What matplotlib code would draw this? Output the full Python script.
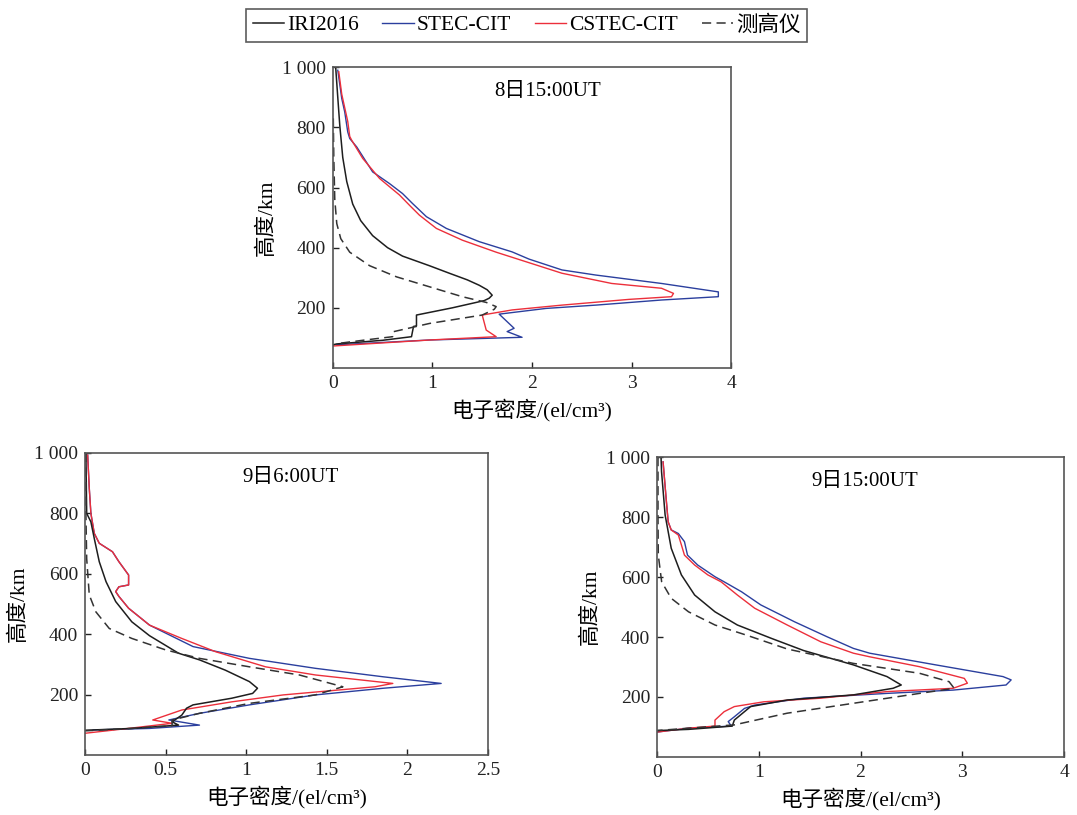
import numpy as np
import matplotlib
matplotlib.use("Agg")
import matplotlib.pyplot as plt

plt.rcParams['font.family'] = ['Liberation Serif', 'Noto Sans CJK SC']
plt.rcParams['axes.unicode_minus'] = False

# 图例名称
series_names = ['IRI2016', 'STEC-CIT', 'CSTEC-CIT', '测高仪']

# ---------- 8日15:00UT ----------
a_iri_x = [0.03, 0.05, 0.07, 0.10, 0.14, 0.20, 0.28, 0.40, 0.55, 0.70, 0.97, 1.17, 1.35, 1.47, 1.55, 1.60, 1.57, 1.52, 1.20, 0.84, 0.84, 0.81, 0.79, 0.50, 0.04, 0.0]
a_iri_y = [995, 900, 807, 700, 620, 545, 490, 440, 400, 372, 340, 315, 293, 275, 260, 242, 232, 224, 200, 176, 140, 138, 104, 92, 80, 77]
a_stec_x = [0.05, 0.09, 0.12, 0.15, 0.17, 0.24, 0.40, 0.57, 0.70, 0.80, 0.94, 1.14, 1.47, 1.80, 1.97, 2.30, 2.64, 3.30, 3.87, 3.87, 3.30, 2.64, 2.14, 1.67, 1.82, 1.75, 1.90, 0.97, 0.04]
a_stec_y = [990, 896, 851, 785, 763, 735, 652, 613, 580, 547, 503, 464, 420, 386, 362, 326, 309, 281, 253, 237, 226, 209, 198, 179, 132, 121, 102, 93, 77]
a_cstec_x = [0.06, 0.09, 0.11, 0.13, 0.15, 0.17, 0.19, 0.30, 0.47, 0.67, 0.77, 0.87, 1.04, 1.30, 1.64, 1.97, 2.30, 2.80, 3.30, 3.42, 3.40, 2.97, 2.30, 1.80, 1.50, 1.54, 1.64, 0.97, 0.0]
a_cstec_y = [985, 910, 880, 850, 820, 770, 757, 697, 630, 575, 541, 508, 464, 425, 385, 350, 315, 281, 265, 248, 237, 228, 209, 193, 176, 126, 104, 93, 73]
a_iono_x = [0.005, 0.01, 0.02, 0.04, 0.08, 0.17, 0.37, 0.64, 0.97, 1.30, 1.54, 1.64, 1.62, 1.50, 0.97, 0.60, 0.60, 0.30, 0.04]
a_iono_y = [830, 700, 560, 480, 430, 385, 340, 303, 270, 237, 218, 204, 195, 176, 148, 120, 104, 92, 81]

# ---------- 9日6:00UT ----------
b_iri_x = [0.005, 0.01, 0.036, 0.057, 0.088, 0.13, 0.19, 0.29, 0.40, 0.58, 0.71, 0.87, 1.02, 1.07, 1.04, 0.91, 0.67, 0.63, 0.60, 0.54, 0.58, 0.29, 0.05, 0.0]
b_iri_y = [1000, 800, 772, 717, 640, 574, 508, 441, 395, 337, 315, 281, 243, 221, 204, 188, 166, 155, 132, 110, 99, 88, 83, 82]
b_cstec_x = [0.016, 0.026, 0.036, 0.057, 0.088, 0.17, 0.21, 0.27, 0.27, 0.21, 0.19, 0.21, 0.27, 0.40, 0.60, 0.81, 1.12, 1.43, 1.91, 1.80, 1.23, 0.91, 0.60, 0.42, 0.54, 0.30, 0.0]
b_cstec_y = [993, 883, 800, 734, 701, 673, 640, 596, 563, 557, 541, 525, 486, 430, 386, 342, 292, 265, 237, 226, 199, 176, 149, 116, 105, 90, 72]
b_stec_x = [0.016, 0.026, 0.036, 0.057, 0.088, 0.17, 0.21, 0.27, 0.27, 0.21, 0.19, 0.21, 0.27, 0.40, 0.67, 1.02, 1.43, 1.85, 2.21, 1.85, 1.43, 1.02, 0.71, 0.52, 0.71, 0.40, 0.05]
b_stec_y = [993, 883, 800, 734, 701, 673, 640, 596, 563, 557, 541, 525, 486, 430, 359, 320, 287, 259, 237, 221, 199, 166, 138, 116, 99, 88, 83]
b_iono_x = [0.005, 0.005, 0.01, 0.026, 0.067, 0.15, 0.29, 0.50, 0.71, 1.02, 1.33, 1.60, 1.43, 1.02, 0.71, 0.54, 0.54, 0.29, 0.0]
b_iono_y = [1000, 800, 650, 530, 474, 419, 386, 348, 320, 292, 265, 226, 199, 171, 138, 116, 97, 88, 80]

# ---------- 9日15:00UT ----------
c_iri_x = [0.04, 0.045, 0.08, 0.14, 0.24, 0.37, 0.57, 0.79, 1.12, 1.44, 1.93, 2.26, 2.40, 2.32, 1.93, 1.28, 0.92, 0.76, 0.74, 0.31, 0.0]
c_iri_y = [1000, 951, 807, 696, 607, 540, 484, 440, 396, 355, 307, 268, 240, 229, 207, 190, 168, 123, 103, 92, 88]
c_stec_x = [0.06, 0.09, 0.11, 0.14, 0.21, 0.27, 0.30, 0.40, 0.57, 0.66, 0.83, 1.02, 1.35, 1.67, 1.93, 2.09, 2.74, 3.40, 3.48, 3.43, 2.91, 2.26, 1.44, 0.96, 0.86, 0.76, 0.70, 0.73, 0.31, 0.0]
c_stec_y = [984, 862, 784, 757, 745, 718, 673, 640, 601, 584, 551, 507, 451, 401, 362, 346, 307, 268, 257, 240, 223, 212, 196, 173, 162, 134, 118, 103, 96, 83]
c_cstec_x = [0.06, 0.09, 0.11, 0.14, 0.21, 0.24, 0.27, 0.37, 0.50, 0.63, 0.79, 0.96, 1.28, 1.61, 1.93, 2.09, 2.58, 3.02, 3.05, 2.91, 2.26, 1.61, 1.05, 0.76, 0.66, 0.57, 0.57, 0.31, 0.0]
c_cstec_y = [984, 862, 784, 757, 740, 707, 673, 640, 607, 584, 540, 496, 440, 384, 346, 334, 301, 262, 246, 229, 218, 196, 184, 168, 151, 123, 103, 96, 83]
c_iono_x = [0.01, 0.01, 0.013, 0.046, 0.14, 0.31, 0.57, 0.89, 1.28, 1.93, 2.58, 2.87, 2.92, 2.58, 1.93, 1.28, 0.76, 0.31, 0.0]
c_iono_y = [1000, 800, 673, 584, 529, 484, 440, 405, 360, 312, 279, 251, 229, 212, 179, 146, 107, 96, 88]

panels = [
    dict(title='8日15:00UT', xmax=4, xticks=[0, 1, 2, 3, 4], xlabels=['0', '1', '2', '3', '4'],
         iri=(a_iri_x, a_iri_y), stec=(a_stec_x, a_stec_y), cstec=(a_cstec_x, a_cstec_y), iono=(a_iono_x, a_iono_y),
         pos=[0.309, 0.5485, 0.370, 0.369], tx=0.54),
    dict(title='9日6:00UT', xmax=2.5, xticks=[0, 0.5, 1, 1.5, 2, 2.5], xlabels=['0', '0.5', '1', '1.5', '2', '2.5'],
         iri=(b_iri_x, b_iri_y), stec=(b_stec_x, b_stec_y), cstec=(b_cstec_x, b_cstec_y), iono=(b_iono_x, b_iono_y),
         pos=[0.079, 0.0736, 0.374, 0.3706], tx=0.51),
    dict(title='9日15:00UT', xmax=4, xticks=[0, 1, 2, 3, 4], xlabels=['0', '1', '2', '3', '4'],
         iri=(c_iri_x, c_iri_y), stec=(c_stec_x, c_stec_y), cstec=(c_cstec_x, c_cstec_y), iono=(c_iono_x, c_iono_y),
         pos=[0.610, 0.0712, 0.378, 0.368], tx=0.51),
]

yticks = [200, 400, 600, 800, 1000]
ytick_labels = ['200', '400', '600', '800', '1 000']

c_black = '#1e1e1e'
c_blue = '#2b3f9e'
c_red = '#ec2f3b'

fig = plt.figure(figsize=(10.77, 8.15), dpi=100)

handles = None
for p in panels:
    ax = fig.add_axes(p['pos'])
    h2, = ax.plot(*p['stec'], color=c_blue, lw=1.0)
    h3, = ax.plot(*p['cstec'], color=c_red, lw=1.0)
    h1, = ax.plot(*p['iri'], color=c_black, lw=1.1)
    h4, = ax.plot(*p['iono'], color='#333333', lw=1.1, linestyle=(0, (6, 3.5)))
    handles = [h1, h2, h3, h4]
    ax.set_xlim(0, p['xmax'])
    ax.set_ylim(0, 1000)
    ax.set_xticks(p['xticks'])
    ax.set_xticklabels(p['xlabels'])
    ax.set_yticks(yticks)
    ax.set_yticklabels(ytick_labels)
    ax.tick_params(direction='in', length=4, labelsize=14, colors='#222222', width=1.0, pad=5)
    for s in ax.spines.values():
        s.set_color('#555555')
        s.set_linewidth(1.2)
    ax.set_xlabel('电子密度/(el/cm³)', fontsize=15.5, labelpad=5)
    ax.set_ylabel('高度/km', fontsize=15.5, labelpad=4)
    ax.text(p['tx'], 0.92, p['title'], transform=ax.transAxes, ha='center', va='center', fontsize=15)

leg = fig.legend(handles, series_names, loc='center', bbox_to_anchor=(0.489, 0.969), ncol=4,
                 fontsize=15.5, frameon=True, fancybox=False, edgecolor='#333333',
                 handlelength=1.45, handletextpad=0.15, columnspacing=1.1, borderpad=0.3,
                 borderaxespad=0.2)
leg.get_frame().set_linewidth(1.2)

fig.savefig('out.png', dpi=100)
